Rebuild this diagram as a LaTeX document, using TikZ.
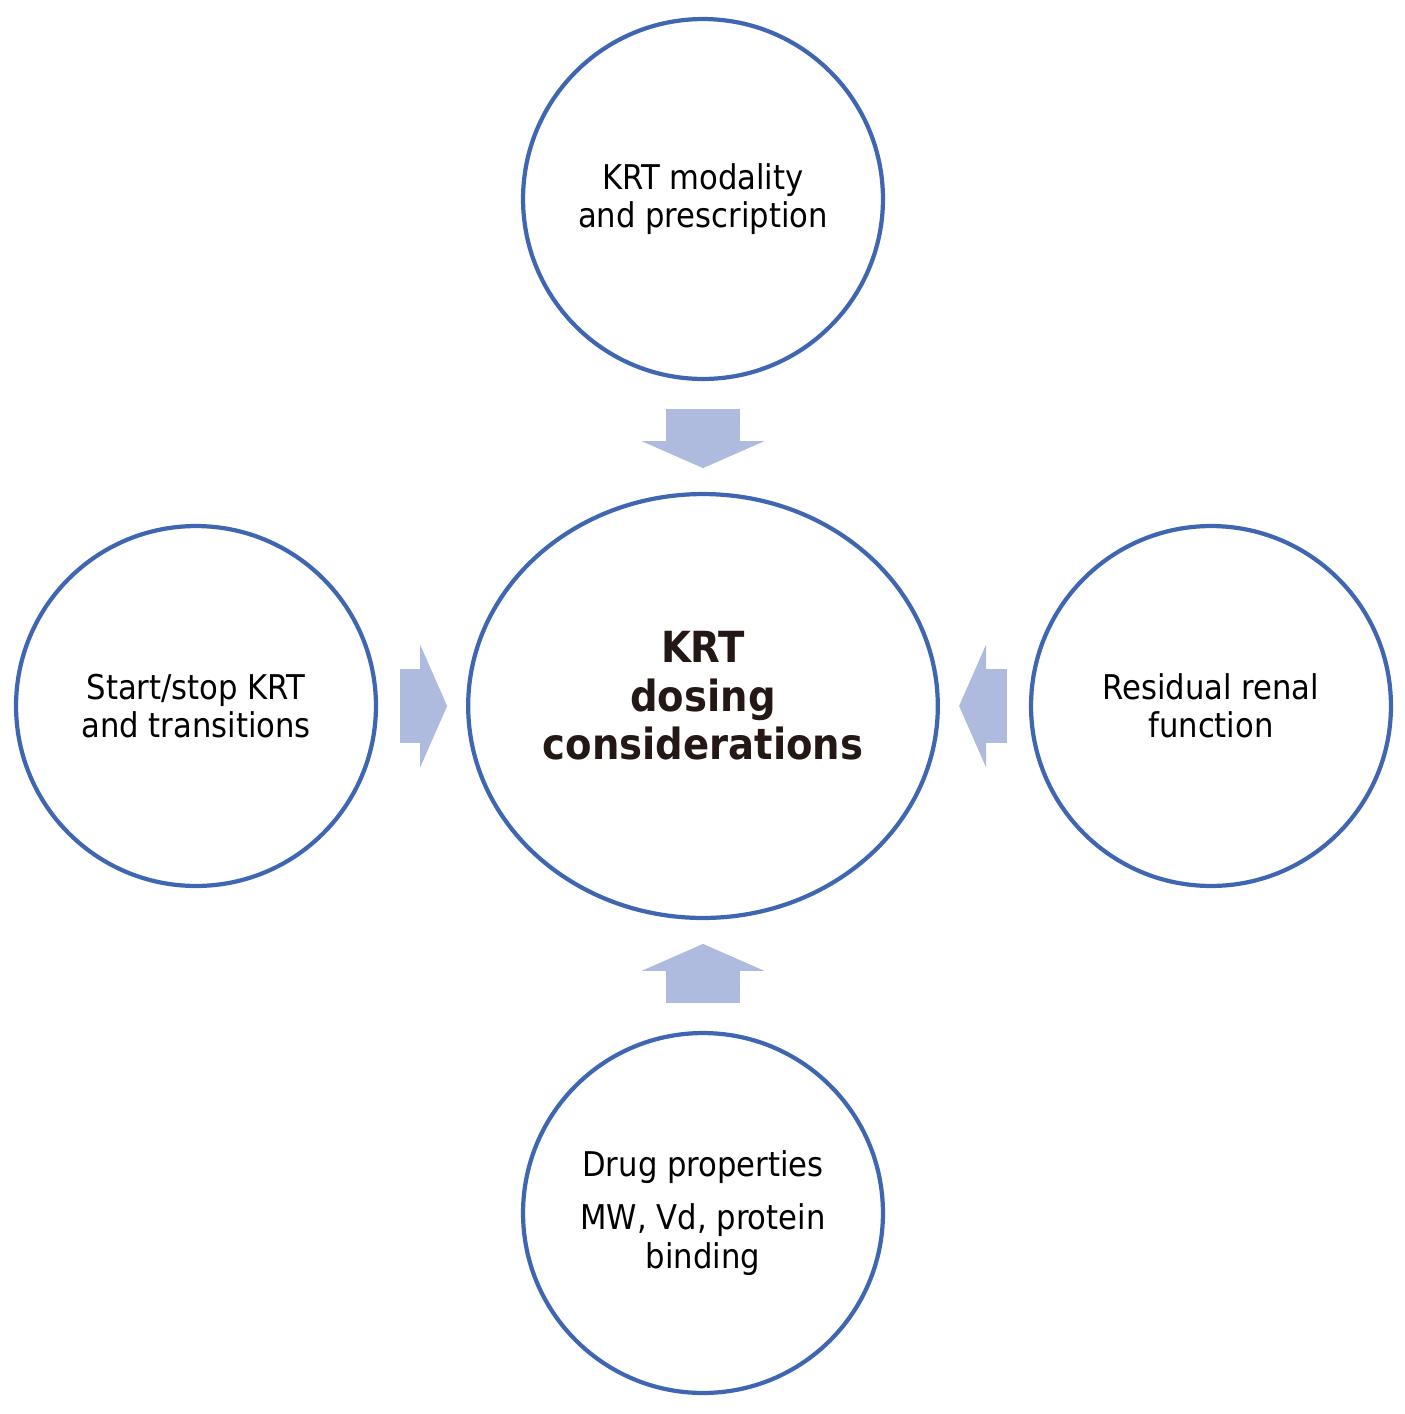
\documentclass[tikz,border=0pt]{standalone}
\usepackage{fontspec}
\setmainfont{DejaVu Sans Condensed}
\usetikzlibrary{shapes.geometric,arrows.meta,calc}
\definecolor{ringblue}{HTML}{3F67B1}
\definecolor{arrowblue}{HTML}{AFBBDE}
\definecolor{darkink}{HTML}{231815}
\tikzset{
  factor/.style={circle, draw=ringblue, line width=2.4pt, minimum size=7.2cm,
    align=center, font=\fontsize{19.4}{21.8}\selectfont},
  hub/.style={ellipse, draw=ringblue, line width=2.4pt, minimum width=9.2cm,
    minimum height=8.48cm, align=center, text=darkink,
    font=\fontsize{24.4}{27.5}\selectfont\bfseries},
  feed/.style={draw=arrowblue, line width=1.48cm,
    -{Triangle[width=2.44cm,length=0.54cm]}}
}
\begin{document}
\begin{tikzpicture}[x=0.02cm,y=-0.02cm]
  \useasboundingbox (0,0) rectangle (1405,1414);
  % centre and the four factors
  \node[hub] (centre) at (703,706) {KRT\\dosing\\considerations\rule[-12pt]{0pt}{0pt}};
  \node[factor] (modality) at (703,199) {KRT modality\\and prescription};
  \node[factor] (startstop) at (196,706) {Start/stop KRT\\and transitions};
  \node[factor] (residual) at (1211,706) {Residual renal\\function};
  \node[factor] (drug) at (703,1213) {Drug properties\\[8.5pt]MW, Vd, protein\\binding};
  % block arrows into the centre
  \foreach \src/\dst in {modality.south/centre.north, startstop.east/centre.west,
                         residual.west/centre.east, drug.north/centre.south}
   {
    \draw[feed] ($(\src)!0.25!(\dst)$) -- ($(\src)!0.785!(\dst)$);
   }
\end{tikzpicture}
\end{document}
